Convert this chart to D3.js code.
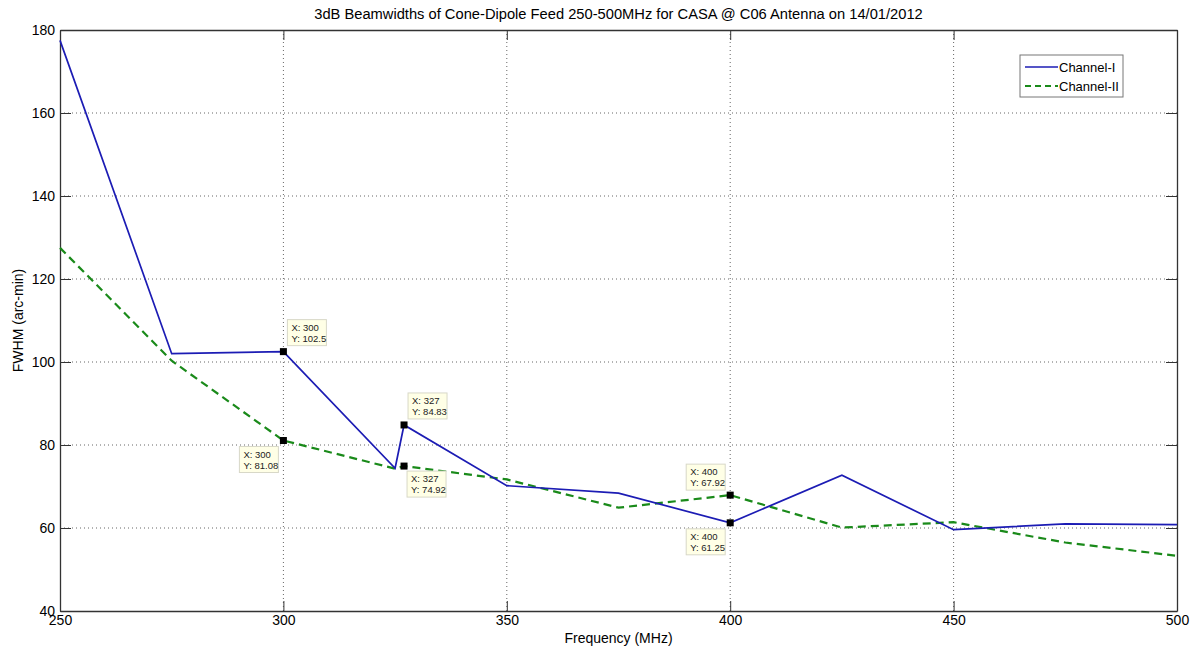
<!DOCTYPE html>
<html>
<head>
<meta charset="utf-8">
<script src="https://cdn.jsdelivr.net/npm/d3@7"></script>
<style>
  body { margin: 0; background: #fff; }
  svg { display: block; font-family: "Liberation Sans", Arial, sans-serif; }
</style>
</head>
<body>
<svg id="chart" width="1203" height="648"></svg>
<script>
// ---- data ----
const frequencies = [250, 275, 300, 325, 327, 350, 375, 400, 425, 450, 475, 500];
const channelI    = [177.5, 102.0, 102.5, 74.4, 84.83, 70.2, 68.4, 61.25, 72.7, 59.6, 61.0, 60.8];
const channelII   = [127.5, 100.3, 81.08, 74.3, 74.92, 71.7, 64.9, 67.92, 60.1, 61.4, 56.5, 53.3];
const xTicks = [250, 300, 350, 400, 450, 500];
const yTicks = [40, 60, 80, 100, 120, 140, 160, 180];
const seriesNames = ["Channel-I", "Channel-II"];
// data tips
const tipFreqs  = [300, 300, 327, 327, 400, 400];
const tipValues = [102.5, 81.08, 84.83, 74.92, 67.92, 61.25];
const tipPlaces = ["ur", "ll", "ur", "lr", "ul", "ll"];
const titleText = "3dB Beamwidths of Cone-Dipole Feed 250-500MHz for CASA @ C06 Antenna on 14/01/2012";

// ---- layout ----
const svg = d3.select("#chart");
const L = 60, R = 1177, T = 30, B = 611;
const x = d3.scaleLinear().domain([250, 500]).range([L, R]);
const y = d3.scaleLinear().domain([40, 180]).range([B, T]);

// grid
const grid = svg.append("g");
xTicks.slice(1, -1).forEach(v => {
  grid.append("line").attr("x1", x(v)).attr("x2", x(v)).attr("y1", T).attr("y2", B)
    .attr("stroke", "#666").attr("stroke-width", 1).attr("stroke-dasharray", "1,3");
});
yTicks.slice(1, -1).forEach(v => {
  grid.append("line").attr("x1", L).attr("x2", R).attr("y1", y(v)).attr("y2", y(v))
    .attr("stroke", "#666").attr("stroke-width", 1).attr("stroke-dasharray", "1,3");
});

// axes (MATLAB-style box with inward ticks)
const axColor = "#333";
const fmt = d3.format("d");
const gxB = svg.append("g").attr("transform", `translate(0,${B})`)
  .call(d3.axisBottom(x).tickValues(xTicks).tickFormat(fmt).tickSizeInner(-10).tickSizeOuter(0).tickPadding(4));
const gxT = svg.append("g").attr("transform", `translate(0,${T})`)
  .call(d3.axisTop(x).tickValues(xTicks).tickFormat("").tickSizeInner(-10).tickSizeOuter(0));
const gyL = svg.append("g").attr("transform", `translate(${L},0)`)
  .call(d3.axisLeft(y).tickValues(yTicks).tickFormat(fmt).tickSizeInner(-11).tickSizeOuter(0).tickPadding(5));
const gyR = svg.append("g").attr("transform", `translate(${R},0)`)
  .call(d3.axisRight(y).tickValues(yTicks).tickFormat("").tickSizeInner(-11).tickSizeOuter(0));
[gxB, gxT, gyL, gyR].forEach(g => {
  g.selectAll("path").attr("stroke", axColor).attr("stroke-width", 1.3);
  g.selectAll("line").attr("stroke", axColor);
  g.selectAll("text").attr("fill", "#000").style("font-size", "14px")
    .style("font-family", "'Liberation Sans', Arial, sans-serif");
});
gyL.selectAll("text").attr("dy", "0.3em");

// lines
const line = d3.line().x(d => x(d[0])).y(d => y(d[1]));
const dI = frequencies.map((f, i) => [f, channelI[i]]);
const dII = frequencies.map((f, i) => [f, channelII[i]]);
svg.append("path").datum(dII).attr("d", line).attr("fill", "none")
  .attr("stroke", "#1a8a1a").attr("stroke-width", 2.2).attr("stroke-dasharray", "8,5");
svg.append("path").datum(dI).attr("d", line).attr("fill", "none")
  .attr("stroke", "#1c1cb4").attr("stroke-width", 1.7);

// data tips
const tips = svg.append("g");
tipFreqs.forEach((f, i) => {
  const px = x(f), py = y(tipValues[i]);
  const w = 39, h = 26;
  const place = tipPlaces[i];
  let bx, by;
  if (place === "ur") { bx = px + 4; by = py - h - 6; }
  else if (place === "ll") { bx = px - w - 5; by = py + 6; }
  else if (place === "lr") { bx = px + 3; by = py + 5; }
  else { bx = px - w - 5; by = py - h - 5; }
  tips.append("rect").attr("x", bx).attr("y", by).attr("width", w).attr("height", h)
    .attr("fill", "#ffffe6").attr("stroke", "#d8d8c8").attr("stroke-width", 1);
  tips.append("text").attr("x", bx + 4).attr("y", by + 11).style("font-size", "9.5px").attr("fill", "#222")
    .text("X: " + f);
  tips.append("text").attr("x", bx + 4).attr("y", by + 22).style("font-size", "9.5px").attr("fill", "#222")
    .text("Y: " + tipValues[i]);
  tips.append("rect").attr("x", px - 3.5).attr("y", py - 3.5).attr("width", 7).attr("height", 7)
    .attr("fill", "#000");
});

// title and labels
svg.append("text").attr("x", (L + R) / 2).attr("y", 19).attr("text-anchor", "middle")
  .style("font-size", "14.7px").text(titleText);
svg.append("text").attr("x", (L + R) / 2).attr("y", 643).attr("text-anchor", "middle")
  .style("font-size", "14px").text("Frequency (MHz)");
svg.append("text").attr("transform", `translate(23,${(T + B) / 2}) rotate(-90)`)
  .attr("text-anchor", "middle").style("font-size", "14px").text("FWHM (arc-min)");

// legend
const lg = svg.append("g");
lg.append("rect").attr("x", 1020).attr("y", 55).attr("width", 103).attr("height", 42)
  .attr("fill", "#fff").attr("stroke", "#777").attr("stroke-width", 1);
const legendStyles = [
  { color: "#1c1cb4", dash: null, w: 1.7 },
  { color: "#1a8a1a", dash: "6,4", w: 2 }
];
seriesNames.forEach((name, i) => {
  const ly = 67 + i * 19;
  const l = lg.append("line").attr("x1", 1025).attr("x2", 1058).attr("y1", ly).attr("y2", ly)
    .attr("stroke", legendStyles[i].color).attr("stroke-width", legendStyles[i].w);
  if (legendStyles[i].dash) l.attr("stroke-dasharray", legendStyles[i].dash);
  lg.append("text").attr("x", 1059).attr("y", ly).attr("dy", "0.35em")
    .style("font-size", "13px").text(name);
});
</script>
</body>
</html>
